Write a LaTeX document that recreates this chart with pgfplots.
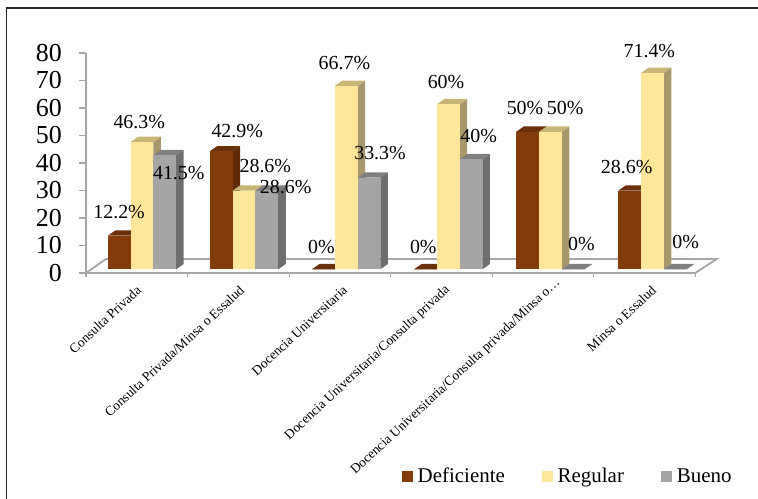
\documentclass[border=0pt]{standalone}
\usepackage{pgfplots}
\usepackage{fontspec}
\setmainfont{Liberation Serif}
\pgfplotsset{compat=1.18}

\definecolor{brownF}{HTML}{843C0C}
\definecolor{brownT}{HTML}{6B3009}
\definecolor{brownS}{HTML}{5E2A08}
\definecolor{yellowF}{HTML}{FFE699}
\definecolor{yellowT}{HTML}{C9B677}
\definecolor{yellowS}{HTML}{A8976A}
\definecolor{greyF}{HTML}{A5A5A5}
\definecolor{greyT}{HTML}{7F7F7F}
\definecolor{greyS}{HTML}{6E6E6E}
\definecolor{floorline}{HTML}{A6A6A6}

% Extruded column: the plot point sits on the value, the column's foot on the floor
\newcommand\columnmark[4]{%
  \pgfdeclareplotmark{#1}{%
    \pgfmathsetmacro\colh{\val*2.75}%
    \pgfmathsetmacro\coltop{3.7}%
    \pgfmathsetmacro\colfoot{3.7-\colh}%
    % side face
    \pgfsetfillcolor{#4}%
    \pgfpathmoveto{\pgfpoint{11.4bp}{\coltop bp+0bp}}%
    \pgfpathlineto{\pgfpoint{19bp}{\coltop bp+5.3bp}}%
    \pgfpathlineto{\pgfpoint{19bp}{\colfoot bp+5.3bp}}%
    \pgfpathlineto{\pgfpoint{11.4bp}{\colfoot bp}}%
    \pgfpathclose\pgfusepath{fill}%
    % top face
    \pgfsetfillcolor{#3}%
    \pgfpathmoveto{\pgfpoint{-11.4bp}{\coltop bp}}%
    \pgfpathlineto{\pgfpoint{-3.8bp}{\coltop bp+5.3bp}}%
    \pgfpathlineto{\pgfpoint{19bp}{\coltop bp+5.3bp}}%
    \pgfpathlineto{\pgfpoint{11.4bp}{\coltop bp}}%
    \pgfpathclose\pgfusepath{fill}%
    % front face
    \pgfsetfillcolor{#2}%
    \pgfpathrectanglecorners{\pgfpoint{-11.4bp}{\colfoot bp}}{\pgfpoint{11.4bp}{\coltop bp}}%
    \pgfusepath{fill}%
  }%
}
\columnmark{colDef}{brownF}{brownT}{brownS}
\columnmark{colReg}{yellowF}{yellowT}{yellowS}
\columnmark{colBue}{greyF}{greyT}{greyS}

% pos: column centre; y: percentage; lx, ly: label offset from the value point
\pgfplotstableread{
pos   y     lx    ly
0.326 12.2  0.0   27.1
1.331 42.9  16.1  24.3
2.337 0     -2.0  26.3
3.342 0     -2.1  26.3
4.348 50    -2.5  27.2
5.353 28.6  -2.9  27.0
}\deficiente
\pgfplotstableread{
pos   y     lx    ly
0.551 46.3  -2.7  23.7
1.556 28.6  21.3  28.7
2.562 66.7  -1.8  26.9
3.567 60    -2.2  26.3
4.573 50    14.7  27.2
5.578 71.4  -3.1  26.0
}\regular
\pgfplotstableread{
pos   y     lx    ly
0.775 41.5  14.1  -13.8
1.780 28.6  18.9  7.7
2.786 33.3  11.1  28.7
3.791 40    7.7   27.0
4.797 0     8.2   28.7
5.802 0     10.5  30.7
}\bueno

\pgfplotsset{
  columns/.style={
    scatter, only marks, scatter src=y,
    scatter/use mapped color={},
    visualization depends on={rawy \as \val},
    mark=#1
  },
  value labels/.style={
    forget plot, only marks, mark=none, point meta=y,
    visualization depends on={\thisrow{lx} \as \lx},
    visualization depends on={\thisrow{ly} \as \ly},
    nodes near coords={\pgfmathprintnumber{\pgfplotspointmeta}\%},
    every node near coord/.style={
      anchor=center, inner sep=0pt, text=black,
      font=\fontsize{20}{24}\selectfont,
      xshift=\lx bp, yshift=\ly bp
    }
  },
  legend square/.style={
    legend image code/.code={\fill[#1] (0bp,-5.2bp) rectangle (10.5bp,5.2bp);}
  }
}

\begin{document}
\begin{tikzpicture}[x=1bp,y=1bp]
  \useasboundingbox (-86,-226) rectangle (672,273);
  % page frame, open on the right and at the bottom
  \draw[line width=1.6bp,black!85] (-79.5,-226) -- (-79.5,265) -- (672,265);
  \begin{axis}[
    at={(0,0)}, anchor=origin,
    x=101.55bp, y=2.75bp,
    xmin=0, xmax=6, ymin=0, ymax=80,
    clip=false,
    axis lines=left,
    axis line style={draw=floorline, line width=1.8bp, -},
    tick align=outside,
    tick style={draw=floorline, line width=1.2bp},
    major tick length=7bp,
    minor tick length=4bp,
    xtick={0.502,1.517,2.531,3.545,4.560,5.574},
    minor xtick={0,1,2,3,4,5,6},
    major x tick style={draw=none},
    xticklabels={Consulta Privada,Consulta Privada/Minsa o Essalud,Docencia Universitaria,Docencia Universitaria/Consulta privada,Docencia Universitaria/Consulta privada/Minsa o…\hspace*{-10bp},Minsa o Essalud},
    xticklabel style={xshift=2bp, yshift=-8bp, rotate=43, anchor=east, inner sep=0pt,
      font=\fontsize{13.5}{16}\selectfont},
    ytick={0,10,...,80},
    yticklabel style={font=\fontsize{26}{28}\selectfont, inner sep=0pt, xshift=-17bp},
    /pgf/number format/assume math mode=true,
    legend columns=3,
    legend cell align=left,
    legend style={
      at={(0.518,-0.923)}, anchor=west, draw=none, fill=none, inner sep=0pt,
      font=\fontsize{21}{24}\selectfont,
      /tikz/every even column/.append style={column sep=37bp},
      nodes={inner sep=0pt},
      /tikz/every odd column/.append style={column sep=5bp},
    },
  ]
    % floor of the plot
    \draw[floorline, line width=1.8bp]
      (axis cs:0,0) -- ++(20bp,14bp) -- ++(610.7bp,0bp) -- ++(-21.4bp,-14bp);

    \addplot[columns=colDef, legend square=brownF] table[x=pos,y=y] {\deficiente};
    \addlegendentry{Deficiente}
    \addplot[columns=colReg, legend square=yellowF] table[x=pos,y=y] {\regular};
    \addlegendentry{Regular}
    \addplot[columns=colBue, legend square=greyF] table[x=pos,y=y] {\bueno};
    \addlegendentry{Bueno}

    \addplot[value labels] table[x=pos,y=y] {\deficiente};
    \addplot[value labels] table[x=pos,y=y] {\regular};
    \addplot[value labels] table[x=pos,y=y] {\bueno};
  \end{axis}
\end{tikzpicture}
\end{document}
